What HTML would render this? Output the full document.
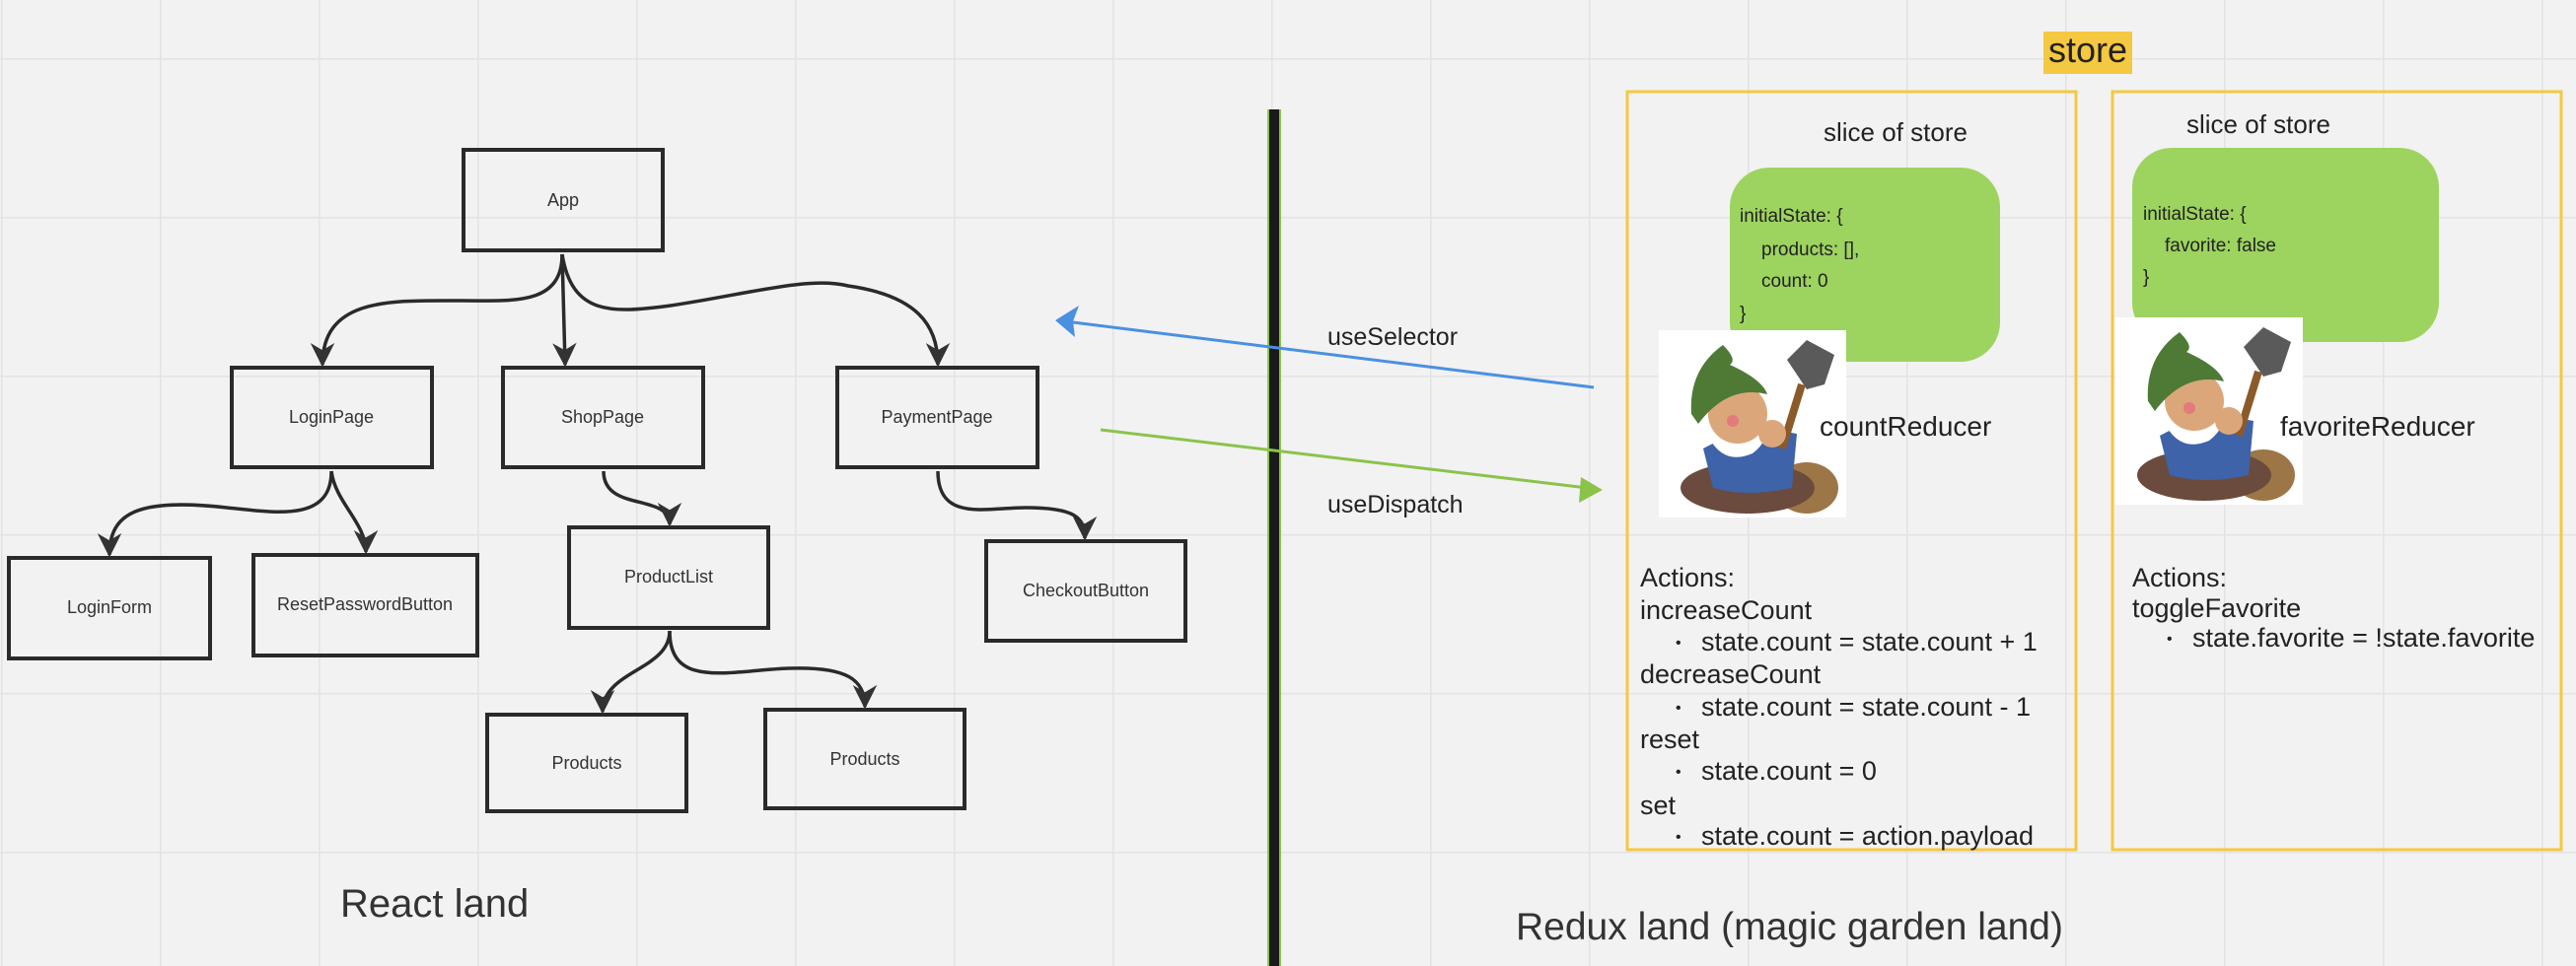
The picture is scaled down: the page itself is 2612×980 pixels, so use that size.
<!DOCTYPE html>
<html><head><meta charset="utf-8"><style>
html,body{margin:0;padding:0;background:#f2f2f2;}
svg{display:block;font-family:"Liberation Sans",sans-serif;}
</style></head><body>
<svg width="2612" height="980" viewBox="0 0 2612 980" xmlns="http://www.w3.org/2000/svg">
<defs>
<pattern id="grid" x="1" y="59" width="161" height="161" patternUnits="userSpaceOnUse">
<path d="M0 0V161M0 0H161" stroke="#e3e3e3" stroke-width="3" fill="none"/>
</pattern>
<marker id="ah" viewBox="0 0 10 10" refX="9" refY="5" markerWidth="7" markerHeight="7" orient="auto"><path d="M0 0L10 5L0 10L3 5Z" fill="#333"/></marker>
<g id="gnome">
<rect x="0" y="0" width="190" height="190" fill="#fff"/>
<ellipse cx="150" cy="160" rx="32" ry="26" fill="#9c7646"/>
<ellipse cx="90" cy="160" rx="68" ry="26" fill="#6a4b3e"/>
<path d="M45 120 Q90 95 140 105 L135 160 Q90 170 55 160Z" fill="#3e63a8"/>
<path d="M130 30 L150 10 L178 25 L168 55 L150 60Z" fill="#5a5a5a"/>
<path d="M145 55 L125 120" stroke="#8b5a2b" stroke-width="8"/>
<path d="M45 95 Q60 140 95 125 Q115 110 110 85 Z" fill="#fff"/>
<circle cx="80" cy="85" r="30" fill="#dba77a"/>
<path d="M33 85 Q30 40 65 15 Q80 30 72 35 Q105 50 110 65 Q70 55 40 95Z" fill="#4e7a36"/>
<circle cx="115" cy="105" r="14" fill="#dba77a"/>
<circle cx="75" cy="92" r="6" fill="#e27b7b"/>
</g>
</defs>
<rect width="2612" height="980" fill="url(#grid)"/>

<g fill="none" stroke="#2a2a2a" stroke-width="4">
<rect x="470" y="152" width="202" height="102"/>
<rect x="235" y="373" width="203" height="101"/>
<rect x="510" y="373" width="203" height="101"/>
<rect x="849" y="373" width="203" height="101"/>
<rect x="9" y="566" width="204" height="102"/>
<rect x="257" y="563" width="227" height="102"/>
<rect x="577" y="535" width="202" height="102"/>
<rect x="1000" y="549" width="202" height="101"/>
<rect x="494" y="725" width="202" height="98"/>
<rect x="776" y="720" width="202" height="100"/>
</g>
<g fill="none" stroke="#2a2a2a" stroke-width="3.5" marker-end="url(#ah)">
<path d="M570 258 C570 310 520 305 470 305 C400 305 327 300 327 370"/>
<path d="M570 258 L573 370"/>
<path d="M570 258 C580 320 620 318 680 310 C760 298 820 280 860 290 C930 300 951 330 951 370"/>
<path d="M336 478 C336 530 280 520 230 515 C140 505 111 520 111 563"/>
<path d="M336 478 C340 510 371 530 371 560"/>
<path d="M612 478 C612 520 679 500 679 532"/>
<path d="M951 478 C951 530 1000 515 1040 515 C1090 515 1100 525 1100 546"/>
<path d="M679 640 C679 680 611 680 611 722"/>
<path d="M679 640 C679 700 740 680 800 678 C860 676 877 690 877 717"/>
</g>
<g font-size="18" fill="#333" text-anchor="middle" dominant-baseline="middle">
<text x="571" y="204">App</text>
<text x="336" y="424">LoginPage</text>
<text x="611" y="424">ShopPage</text>
<text x="950" y="424">PaymentPage</text>
<text x="111" y="617">LoginForm</text>
<text x="370" y="614">ResetPasswordButton</text>
<text x="678" y="586">ProductList</text>
<text x="1101" y="600">CheckoutButton</text>
<text x="595" y="775">Products</text>
<text x="877" y="771">Products</text>
</g>
<text x="345" y="930" font-size="40" fill="#333">React land</text>

<rect x="1285" y="111" width="14" height="869" fill="#8bc34a"/>
<rect x="1287" y="111" width="10" height="869" fill="#1a1a1a"/>

<line x1="1616" y1="393" x2="1080" y2="326" stroke="#4a90e2" stroke-width="3"/>
<path d="M1070 325 L1094 310 L1088 326 L1090 342Z" fill="#4a90e2"/>
<line x1="1116" y1="436" x2="1618" y2="496" stroke="#8bc34a" stroke-width="3"/>
<path d="M1625 497 L1603 484 L1601 510Z" fill="#8bc34a"/>
<text x="1346" y="350" font-size="25" fill="#222">useSelector</text>
<text x="1346" y="520" font-size="25" fill="#222">useDispatch</text>

<rect x="2072" y="32" width="90" height="43" fill="#f5c842"/>
<text x="2117" y="63" font-size="36" fill="#222" text-anchor="middle">store</text>
<rect x="1650" y="93" width="455" height="769" fill="none" stroke="#f5c842" stroke-width="3"/>
<rect x="2142" y="93" width="455" height="769" fill="none" stroke="#f5c842" stroke-width="3"/>
<text x="1849" y="143" font-size="26" fill="#222">slice of store</text>
<text x="2217" y="135" font-size="26" fill="#222">slice of store</text>
<rect x="1754" y="170" width="274" height="197" rx="40" fill="#9dd35f"/>
<rect x="2162" y="150" width="311" height="197" rx="40" fill="#9dd35f"/>
<g font-size="19" fill="#222" dominant-baseline="middle">
<text x="1764" y="220">initialState: {</text>
<text x="1786" y="254">products: [],</text>
<text x="1786" y="286">count: 0</text>
<text x="1764" y="319">}</text>
<text x="2173" y="218">initialState: {</text>
<text x="2195" y="250">favorite: false</text>
<text x="2173" y="282">}</text>
</g>
<use href="#gnome" x="1682" y="335"/>
<use href="#gnome" x="2145" y="322"/>
<text x="1845" y="442" font-size="28" fill="#222">countReducer</text>
<text x="2312" y="442" font-size="28" fill="#222">favoriteReducer</text>
<g font-size="27" fill="#222" dominant-baseline="middle">
<text x="1663" y="588">Actions:</text>
<text x="1663" y="621">increaseCount</text>
<text x="1699" y="653" font-size="16">•</text><text x="1725" y="653">state.count = state.count + 1</text>
<text x="1663" y="686">decreaseCount</text>
<text x="1699" y="719" font-size="16">•</text><text x="1725" y="719">state.count = state.count - 1</text>
<text x="1663" y="752">reset</text>
<text x="1699" y="784" font-size="16">•</text><text x="1725" y="784">state.count = 0</text>
<text x="1663" y="819">set</text>
<text x="1699" y="850" font-size="16">•</text><text x="1725" y="850">state.count = action.payload</text>
<text x="2162" y="588">Actions:</text>
<text x="2162" y="619">toggleFavorite</text>
<text x="2197" y="649" font-size="16">•</text><text x="2223" y="649">state.favorite = !state.favorite</text>
</g>
<text x="1537" y="953" font-size="39" fill="#333">Redux land (magic garden land)</text>
</svg>
</body></html>
